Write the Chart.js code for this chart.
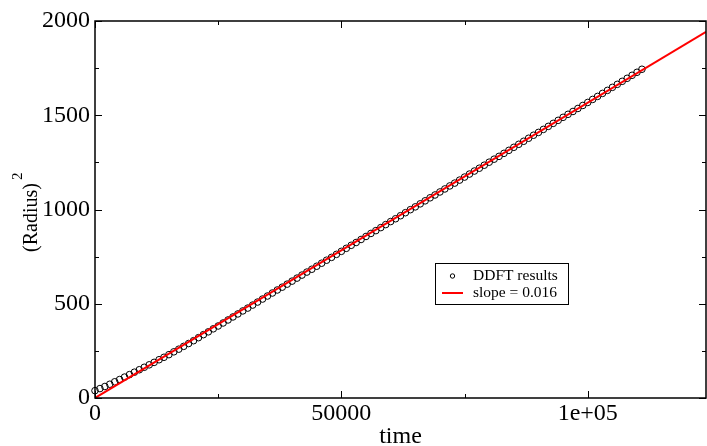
<!DOCTYPE html>
<html><head><meta charset="utf-8">
<script src="https://cdn.jsdelivr.net/npm/chart.js@4.4.1/dist/chart.umd.min.js"></script>
<style>html,body{margin:0;padding:0;background:#fff;overflow:hidden}#wrap{width:707px;height:446px;position:relative}</style>
</head><body><div id="wrap"><canvas id="c" width="707" height="446"></canvas></div>
<script>
// ---- data ----
const timeValues = [0,1000,2000,3000,4000,5000,6000,7000,8000,9000,
  10000,11000,12000,13000,14000,15000,16000,17000,18000,19000,
  20000,21000,22000,23000,24000,25000,26000,27000,28000,29000,
  30000,31000,32000,33000,34000,35000,36000,37000,38000,39000,
  40000,41000,42000,43000,44000,45000,46000,47000,48000,49000,
  50000,51000,52000,53000,54000,55000,56000,57000,58000,59000,
  60000,61000,62000,63000,64000,65000,66000,67000,68000,69000,
  70000,71000,72000,73000,74000,75000,76000,77000,78000,79000,
  80000,81000,82000,83000,84000,85000,86000,87000,88000,89000,
  90000,91000,92000,93000,94000,95000,96000,97000,98000,99000,
  100000,101000,102000,103000,104000,105000,106000,107000,108000,109000,
  110000,111000];
const radiusSquared = [39,50,61,73,86,98,111,124,137,150,
  163,176,189,203,216,230,245,259,274,289,
  304,320,336,351,367,382,398,414,430,446,
  462,477,493,509,525,541,557,573,588,604,
  620,636,652,668,683,699,715,731,746,762,
  778,794,810,825,841,857,873,888,904,920,
  936,951,967,983,999,1014,1030,1046,1062,1077,
  1093,1109,1125,1140,1156,1172,1188,1204,1219,1235,
  1251,1267,1282,1298,1314,1330,1346,1362,1378,1394,
  1409,1425,1441,1457,1473,1489,1505,1520,1536,1552,
  1568,1584,1600,1616,1632,1648,1664,1680,1696,1712,
  1728,1744];
const fitTime = [0, 124000];
const fitRadiusSquared = [0, 1942];
const xTickValues = [0, 25000, 50000, 75000, 100000];
const xTickLabels = ['0', '', '50000', '', '1e+05'];
const yTickValues = [0, 250, 500, 750, 1000, 1250, 1500, 1750, 2000];
const yTickLabels = ['0', '', '500', '', '1000', '', '1500', '', '2000'];
const seriesNames = ['DDFT results', 'slope = 0.016'];
const xTitle = 'time';
const yTitle = '(Radius)';
const yTitleSup = '2';
// ----------------------------------------------

const SERIF = '"Liberation Serif", "Times New Roman", serif';

const framePlugin = {
  id: 'frameTicks',
  afterDraw(chart) {
    const ctx = chart.ctx;
    const a = chart.chartArea;
    const xs = chart.scales.x, ys = chart.scales.y;
    ctx.save();
    ctx.strokeStyle = '#000';
    ctx.lineWidth = 1.5;
    ctx.strokeRect(a.left, a.top, a.right - a.left, a.bottom - a.top);
    ctx.lineWidth = 1;
    xTickValues.forEach((v, i) => {
      const px = Math.round(xs.getPixelForValue(v)) + 0.5;
      const len = xTickLabels[i] ? 7 : 4;
      ctx.beginPath();
      ctx.moveTo(px, a.bottom); ctx.lineTo(px, a.bottom - len);
      ctx.moveTo(px, a.top); ctx.lineTo(px, a.top + len);
      ctx.stroke();
    });
    yTickValues.forEach((v, i) => {
      const py = Math.round(ys.getPixelForValue(v)) + 0.5;
      const len = yTickLabels[i] ? 7 : 4;
      ctx.beginPath();
      ctx.moveTo(a.left, py); ctx.lineTo(a.left + len, py);
      ctx.moveTo(a.right, py); ctx.lineTo(a.right - len, py);
      ctx.stroke();
    });
    // y axis title with superscript
    const cy = (a.top + a.bottom) / 2 + 8;
    ctx.translate(37, cy);
    ctx.rotate(-Math.PI / 2);
    ctx.fillStyle = '#000';
    ctx.font = '20px ' + SERIF;
    ctx.textBaseline = 'alphabetic';
    const w = ctx.measureText(yTitle).width;
    ctx.textAlign = 'left';
    ctx.fillText(yTitle, -w / 2, 0);
    ctx.font = '15px ' + SERIF;
    ctx.fillText(yTitleSup, w / 2 + 3, -15);
    ctx.restore();

    // legend
    ctx.save();
    const lx = 435.5, ly = 263.5, lw = 133, lh = 41;
    ctx.fillStyle = '#fff';
    ctx.fillRect(lx, ly, lw, lh);
    ctx.strokeStyle = '#000';
    ctx.lineWidth = 1;
    ctx.strokeRect(lx, ly, lw, lh);
    ctx.beginPath();
    ctx.arc(452.5, 276, 2.2, 0, Math.PI * 2);
    ctx.stroke();
    ctx.strokeStyle = '#ff0000';
    ctx.lineWidth = 2;
    ctx.beginPath();
    ctx.moveTo(442, 293); ctx.lineTo(463, 293);
    ctx.stroke();
    ctx.fillStyle = '#000';
    ctx.font = '15.5px ' + SERIF;
    ctx.textBaseline = 'middle';
    ctx.textAlign = 'left';
    ctx.fillText(seriesNames[0], 473, 276);
    ctx.fillText(seriesNames[1], 473, 293);
    ctx.restore();
  }
};

new Chart(document.getElementById('c'), {
  type: 'scatter',
  data: {
    datasets: [
      {
        label: seriesNames[1],
        type: 'line',
        data: fitTime.map((t, i) => ({x: t, y: fitRadiusSquared[i]})),
        borderColor: '#ff0000',
        borderWidth: 2,
        pointRadius: 0,
        fill: false,
        tension: 0,
        order: 0
      },
      {
        label: seriesNames[0],
        data: timeValues.map((t, i) => ({x: t, y: radiusSquared[i]})),
        showLine: false,
        pointStyle: 'circle',
        pointRadius: 3.3,
        borderWidth: 1,
        borderColor: '#000',
        backgroundColor: 'rgba(0,0,0,0)',
        clip: false,
        order: 1
      }
    ]
  },
  options: {
    responsive: false,
    devicePixelRatio: 1,
    animation: false,
    events: [],
    layout: {autoPadding: false, padding: {top: 21, right: 1, bottom: 0, left: 0}},
    plugins: {legend: {display: false}, tooltip: {enabled: false}},
    scales: {
      x: {
        type: 'linear',
        min: 0, max: 124000,
        afterBuildTicks: s => { s.ticks = xTickValues.map(v => ({value: v})); },
        afterFit: s => { s.height = 48; s.paddingLeft = 0; s.paddingRight = 0; },
        grid: {display: false, drawTicks: false},
        border: {display: false},
        ticks: {
          autoSkip: false, maxRotation: 0, padding: 1, color: '#000',
          font: {family: SERIF, size: 24},
          callback: v => { const i = xTickValues.indexOf(v); return i >= 0 ? xTickLabels[i] : ''; }
        },
        title: {display: true, text: xTitle, color: '#000', font: {family: SERIF, size: 24, lineHeight: 1}, padding: {top: 0, bottom: -3}}
      },
      y: {
        type: 'linear',
        min: 0, max: 2000,
        afterBuildTicks: s => { s.ticks = yTickValues.map(v => ({value: v})); },
        afterFit: s => { s.width = 95; s.paddingTop = 0; s.paddingBottom = 0; },
        grid: {display: false, drawTicks: false},
        border: {display: false},
        ticks: {
          autoSkip: false, padding: 5, color: '#000',
          font: {family: SERIF, size: 24},
          callback: v => { const i = yTickValues.indexOf(v); return i >= 0 ? yTickLabels[i] : ''; }
        }
      }
    }
  },
  plugins: [framePlugin]
});
</script>
</body></html>
